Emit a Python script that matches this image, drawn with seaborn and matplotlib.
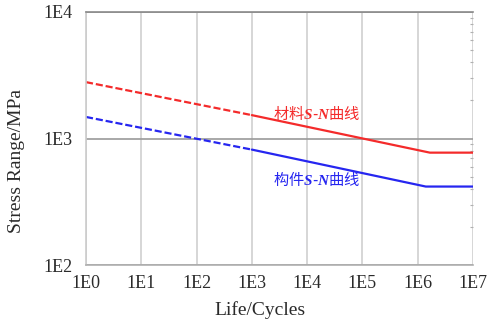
import matplotlib
matplotlib.use("Agg")
import matplotlib.pyplot as plt
import matplotlib.ticker as mticker
import numpy as np
import pandas as pd
import seaborn as sns

# ---- data ----
cycles_material = [1e0, 1e3, 1.66e6, 1e7]
stress_material = [2790, 1530, 773, 773]
cycles_component = [1e0, 1e3, 1.4e6, 1e7]
stress_component = [1480, 817, 417, 417]
label_material = "材料$S$-$N$曲线"
label_component = "构件$S$-$N$曲线"
x_ticks = [1e0, 1e1, 1e2, 1e3, 1e4, 1e5, 1e6, 1e7]
x_ticklabels = ["1E0", "1E1", "1E2", "1E3", "1E4", "1E5", "1E6", "1E7"]
y_ticks = [1e2, 1e3, 1e4]
y_ticklabels = ["1E2", "1E3", "1E4"]

sns.set_theme(style="white")
plt.rcParams["font.family"] = ["Liberation Serif", "Noto Sans CJK SC", "DejaVu Sans"]
plt.rcParams["mathtext.fontset"] = "custom"
plt.rcParams["mathtext.it"] = "Liberation Serif:italic:bold"
plt.rcParams["mathtext.rm"] = "Liberation Serif"

RED = "#f42b2b"
BLUE = "#2626f0"

fig = plt.figure(figsize=(4.88, 3.2), dpi=100)
ax = fig.add_axes([86 / 488, 1 - 265 / 320, (473 - 86) / 488, (265 - 12) / 320])

def draw(cycles, stress, color):
    df = pd.DataFrame({"cycles": cycles, "stress": stress})
    dashed = df.iloc[:2]
    solid = df.iloc[1:]
    sns.lineplot(data=dashed, x="cycles", y="stress", ax=ax, color=color,
                 lw=1.6, linestyle=(0, (3.2, 1.3)), estimator=None, sort=False)
    sns.lineplot(data=solid, x="cycles", y="stress", ax=ax, color=color,
                 lw=1.6, estimator=None, sort=False)

draw(cycles_material, stress_material, RED)
draw(cycles_component, stress_component, BLUE)

ax.set_xscale("log")
ax.set_yscale("log")
ax.set_xlim(1e0, 1e7)
ax.set_ylim(1e2, 1e4)

ax.set_xticks(x_ticks)
ax.set_xticklabels(x_ticklabels)
ax.set_yticks(y_ticks)
ax.set_yticklabels(y_ticklabels)
ax.xaxis.set_minor_locator(mticker.LogLocator(base=10, subs=np.arange(2, 10), numticks=20))
ax.yaxis.set_minor_locator(mticker.LogLocator(base=10, subs=np.arange(2, 10), numticks=20))
ax.xaxis.set_minor_formatter(mticker.NullFormatter())
ax.yaxis.set_minor_formatter(mticker.NullFormatter())

ax.tick_params(axis="both", which="major", length=0, labelsize=13, colors="#2a2a2a")
ax.tick_params(axis="x", which="major", pad=7)
ax.tick_params(axis="y", which="major", pad=10)
ax.tick_params(axis="both", which="minor", direction="in", length=2.5, width=0.8,
               color="#b0b0b0")
ax.tick_params(axis="y", which="minor", right=True)

ax.grid(False)
ax.xaxis.grid(True, which="major", color="#cfcfcf", lw=1.2)
ax.yaxis.grid(True, which="major", color="#9a9a9a", lw=1.2)

for side, col in [("top", "#8a8a8a"), ("left", "#cccccc"), ("bottom", "#b0b0b0")]:
    ax.spines[side].set_color(col)
    ax.spines[side].set_linewidth(1.2)
ax.spines["right"].set_visible(False)

ax.set_xlabel("Life/Cycles", fontsize=14, color="#2a2a2a")
ax.set_ylabel("Stress Range/MPa", fontsize=14, color="#2a2a2a")
ax.xaxis.set_label_coords((259.5 - 86) / 387, (265 - 301) / 253)
ax.yaxis.set_label_coords((25 - 86) / 387, (265 - 161) / 253)

ax.text(1.5e4, 1560, label_material, color=RED, fontsize=11, ha="center", va="center",
        family=["Noto Sans CJK SC", "DejaVu Sans"])
ax.text(1.5e4, 470, label_component, color=BLUE, fontsize=11, ha="center", va="center",
        family=["Noto Sans CJK SC", "DejaVu Sans"])

fig.savefig("out.png", dpi=100)
